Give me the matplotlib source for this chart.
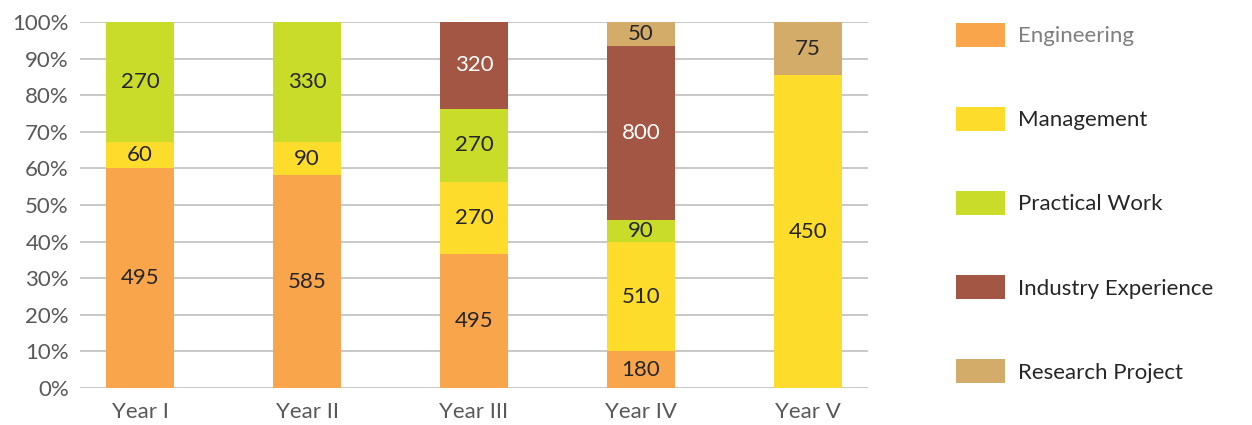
import matplotlib
matplotlib.use("Agg")
import matplotlib.pyplot as plt
import numpy as np

years = ["Year I", "Year II", "Year III", "Year IV", "Year V"]
series = ["Engineering", "Management", "Practical Work",
          "Industry Experience", "Research Project"]

# numbers printed on the segments
engineering = [495, 585, 495, 180, 0]
management = [60, 90, 270, 510, 450]
practical = [270, 330, 270, 90, 0]
industry = [0, 0, 320, 800, 0]
research = [0, 0, 0, 50, 75]

# segment heights (% of bar) as drawn in the chart
engineering_pct = [60.0, 58.2, 36.5, 10.0, 0.0]
management_pct = [7.3, 9.0, 19.9, 29.8, 85.5]
practical_pct = [32.7, 32.8, 19.9, 6.2, 0.0]
industry_pct = [0.0, 0.0, 23.7, 47.4, 0.0]
research_pct = [0.0, 0.0, 0.0, 6.6, 14.5]

colors = ["#F9A54B", "#FDDC2C", "#C9DC2A", "#A25643", "#D4AC6A"]
label_colors = ["#262626", "#262626", "#262626", "#FFFFFF", "#262626"]

plt.rcParams["font.family"] = ["Lato", "DejaVu Sans"]

labels = np.array([engineering, management, practical, industry, research])
pct = np.array([engineering_pct, management_pct, practical_pct,
                industry_pct, research_pct])

fig = plt.figure(figsize=(12.52, 4.25), dpi=100)
ax = fig.add_axes([0.0639, 0.0871, 0.6294, 0.8609])

x = np.arange(len(years))
bottom = np.zeros(len(years))
handles = []
for i, name in enumerate(series):
    bars = ax.bar(x, pct[i], 0.41, bottom=bottom, color=colors[i],
                  label=name, zorder=2)
    handles.append(bars)
    for j, b in enumerate(bars):
        if labels[i, j] > 0:
            ax.text(b.get_x() + b.get_width() / 2, bottom[j] + pct[i, j] / 2,
                    f"{labels[i, j]}", ha="center", va="center",
                    fontsize=16, color=label_colors[i], zorder=3)
    bottom += pct[i]

ax.set_xlim(-0.36, 4.36)
ax.set_ylim(0, 100)
ax.set_yticks(np.arange(0, 101, 10))
ax.set_yticklabels([f"{v}%" for v in range(0, 101, 10)])
ax.set_xticks(x)
ax.set_xticklabels(years)
ax.yaxis.grid(True, color="#C8C8C8", linewidth=1.4, zorder=0)
ax.set_axisbelow(True)
for s in ax.spines.values():
    s.set_visible(False)
ax.tick_params(axis="both", length=0, labelsize=16, colors="#595959")
ax.tick_params(axis="y", pad=8)
ax.tick_params(axis="x", pad=10)

leg = fig.legend(handles=handles, labels=series, loc="upper left",
                 bbox_to_anchor=(956 / 1252, 1 - 23 / 425), frameon=False,
                 fontsize=16, handlelength=2.2, handleheight=1.26,
                 labelspacing=2.72, handletextpad=0.6, borderpad=0,
                 borderaxespad=0)
for k, t in enumerate(leg.get_texts()):
    t.set_color("#7F7F7F" if k == 0 else "#262626")

fig.savefig("out.png", dpi=100)
